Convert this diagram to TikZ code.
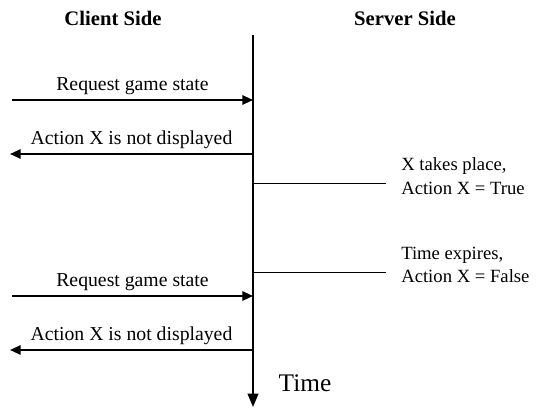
\documentclass[tikz,border=0pt]{standalone}
\usepackage{fontspec}
\setmainfont{Liberation Serif}
\usetikzlibrary{arrows.meta}

\begin{document}
\begin{tikzpicture}[x=0.75pt, y=0.75pt,
    msg/.style={line width=1.5pt, -{Triangle[length=8pt,width=7pt]}},
    event/.style={line width=0.5pt},
    lbl/.style={font=\fontsize{14.8}{17}\selectfont, inner sep=1pt},
    note/.style={font=\fontsize{14}{17.5}\selectfont, align=left, anchor=west, inner sep=0pt},
    head/.style={font=\fontsize{15.5}{18}\selectfont\bfseries}]
    \useasboundingbox (0,0) rectangle (538,408);
    % headings
    \node[head] (client) at (113,390) {Client Side};
    \node[head] (server) at (405,390) {Server Side};
    % time line
    \coordinate (top) at (253,373);
    \coordinate (bot) at (253,1);
    \draw[line width=1.5pt, -{Triangle[length=10pt,width=8pt]}] (top) -- (bot);
    \node[font=\fontsize{19}{21}\selectfont, anchor=west] (time) at (274,25) {Time};
    % client side messages
    \coordinate (r1) at (253,308);  \coordinate (c1) at (12,308);
    \coordinate (a1) at (253,254);  \coordinate (d1) at (10,254);
    \coordinate (r2) at (253,112);  \coordinate (c2) at (12,112);
    \coordinate (a2) at (253,58);   \coordinate (d2) at (10,58);
    \draw[msg] (c1) -- (r1) node[lbl, midway, above=2pt] {Request game state};
    \draw[msg] (a1) -- (d1) node[lbl, midway, above=2pt] {Action X is not displayed};
    \draw[msg] (c2) -- (r2) node[lbl, midway, above=2pt] {Request game state};
    \draw[msg] (a2) -- (d2) node[lbl, midway, above=2pt] {Action X is not displayed};
    % server side events
    \coordinate (e1) at (253,225);  \coordinate (f1) at (386,225);
    \coordinate (e2) at (253,136);  \coordinate (f2) at (386,136);
    \draw[event] (e1) -- (f1);
    \draw[event] (e2) -- (f2);
    \node[note] (n1) at (401,232) {X takes place,\\Action X = True};
    \node[note] (n2) at (401,143) {Time expires,\\Action X = False};
\end{tikzpicture}
\end{document}
